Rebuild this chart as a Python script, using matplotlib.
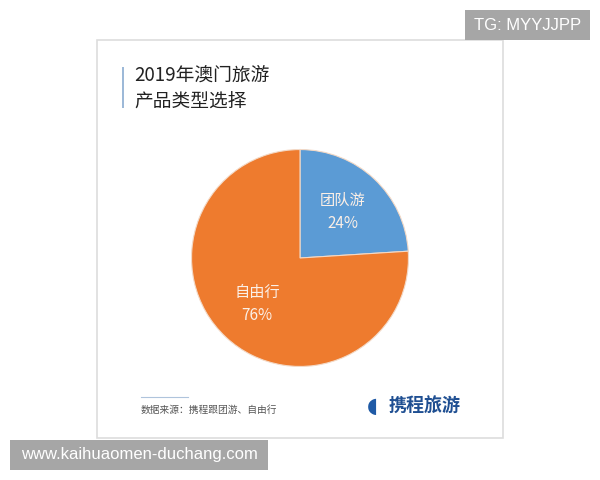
import matplotlib
matplotlib.use('Agg')
import matplotlib.pyplot as plt
from matplotlib.patches import Rectangle

plt.rcParams['font.family'] = ['Noto Sans CJK SC', 'DejaVu Sans']

# data
categories = ["团队游", "自由行"]
shares = [24, 76]
colors = ["#5B9BD5", "#EE7B2E"]
title_lines = "2019年澳门旅游\n产品类型选择"
source_text = "数据来源：携程跟团游、自由行"

W, H = 600, 480
fig = plt.figure(figsize=(W / 100, H / 100), dpi=100)
fig.patch.set_facecolor("white")

def px(x, y):
    # pixel coords (top-left origin) -> figure fraction
    return x / W, 1 - y / H

# card border
x0, y0 = px(97, 438)
fig.patches.append(Rectangle((x0, y0), (503 - 97) / W, (438 - 40) / H,
                             transform=fig.transFigure, facecolor="white",
                             edgecolor="#DDDDDD", linewidth=1.2, zorder=-5))

# title with side bar
bx, by = px(122, 108)
fig.patches.append(Rectangle((bx, by), 2 / W, 41 / H, transform=fig.transFigure,
                             facecolor="#9DB9D8", edgecolor="none"))
tx, ty = px(134, 88)
fig.text(tx, ty, title_lines, fontsize=13.5, color="#222222", va="center",
         ha="left", linespacing=1.3)

# pie
cx, cy, r = 300, 258, 109
ax = fig.add_axes([(cx - r) / W, (H - cy - r) / H, 2 * r / W, 2 * r / H])
ax.set_zorder(2)
labels = [f"{c}\n{v}%" for c, v in zip(categories, shares)]
wedges, texts = ax.pie(shares, colors=colors, startangle=90, counterclock=False,
                       labels=labels, labeldistance=0.58,
                       wedgeprops=dict(linewidth=0.8, edgecolor="#F3D9C6"),
                       textprops=dict(color="#FBEFE6", fontsize=11, ha="center",
                                      va="center", linespacing=1.5))
ax.set_xlim(-1.005, 1.005)
ax.set_ylim(-1.005, 1.005)
ax.set_aspect("equal")

# footer
lx, ly = px(141, 397)
fig.lines.append(plt.Line2D([lx, 188 / W], [ly, ly], transform=fig.transFigure,
                            color="#AFC4DC", linewidth=0.8))
sx, sy = px(141, 410)
fig.text(sx, sy, source_text, fontsize=7, color="#555555", va="center", ha="left")
gx, gy = px(367, 406)
fig.text(gx, gy, "◖", fontsize=15, color="#1F5AA6", va="center", ha="left",
         family=['DejaVu Sans'])
kx, ky = px(389, 406)
fig.text(kx, ky, "携程旅游", fontsize=13, color="#1F4F92", va="center",
         ha="left", fontweight="bold")

# watermark boxes
for (left, top, right, bottom, txt) in [(465, 10, 590, 40, "TG: MYYJJPP"),
                                        (10, 440, 268, 470, "www.kaihuaomen-duchang.com")]:
    rx, ry = px(left, bottom)
    fig.patches.append(Rectangle((rx, ry), (right - left) / W, (bottom - top) / H,
                                 transform=fig.transFigure, facecolor="#A6A6A6",
                                 edgecolor="none", zorder=5))
    mx, my = px((left + right) / 2, (top + bottom) / 2)
    fig.text(mx, my, txt, fontsize=12, color="white", ha="center", va="center",
             family=['Liberation Sans', 'DejaVu Sans'], zorder=6)

fig.savefig("out.png", dpi=100)
